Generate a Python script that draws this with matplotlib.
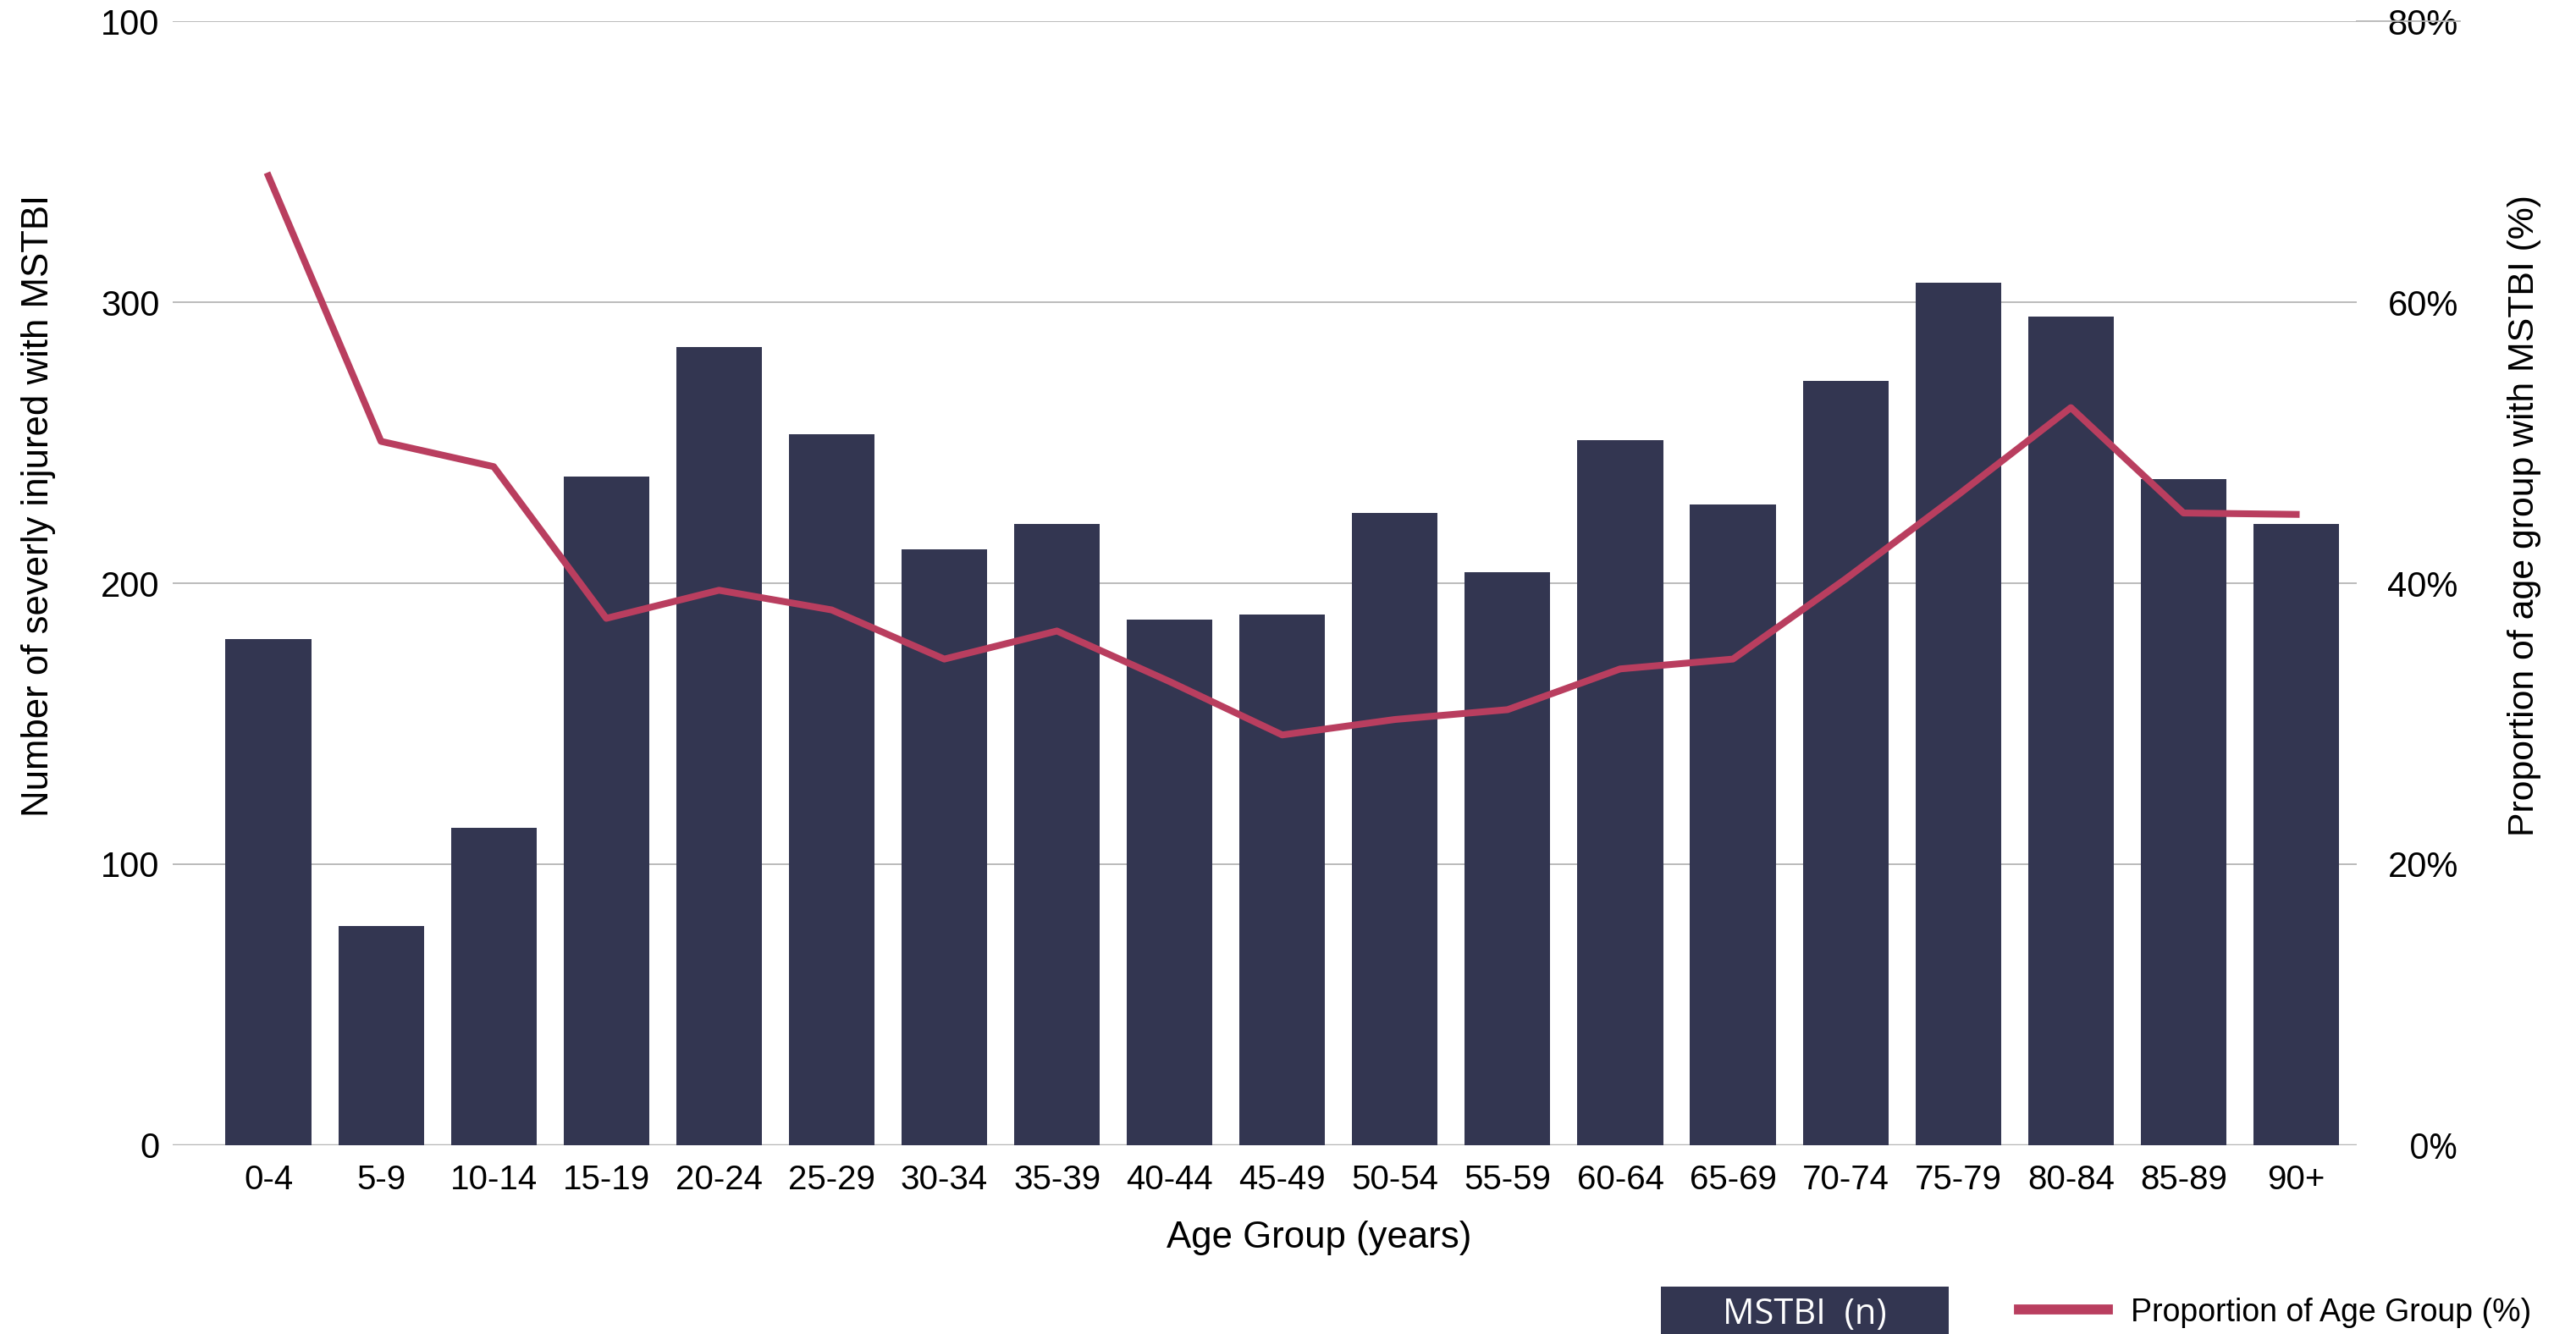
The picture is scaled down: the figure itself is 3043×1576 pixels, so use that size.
import matplotlib
matplotlib.use("Agg")
import matplotlib.pyplot as plt
from matplotlib import font_manager
from matplotlib.patches import Rectangle
from matplotlib.lines import Line2D

age_groups = ["0-4", "5-9", "10-14", "15-19", "20-24", "25-29", "30-34", "35-39",
              "40-44", "45-49", "50-54", "55-59", "60-64", "65-69", "70-74", "75-79",
              "80-84", "85-89", "90+"]
mstbi_n = [180, 78, 113, 238, 284, 253, 212, 221, 187, 189,
           225, 204, 251, 228, 272, 307, 295, 237, 221]
proportion_pct = [69.0, 50.1, 48.3, 37.5, 39.5, 38.1, 34.6, 36.6, 33.0, 29.2,
                  30.3, 31.0, 33.9, 34.6, 40.3, 46.3, 52.5, 45.0, 44.9]
left_ticks = [0, 100, 200, 300, 400]
left_tick_labels = ["0", "100", "200", "300", "100"]
right_ticks = [0, 20, 40, 60, 80]

installed = {f.name for f in font_manager.fontManager.ttflist}
narrow = "Liberation Sans Narrow" if "Liberation Sans Narrow" in installed else "Liberation Sans"
plt.rcParams['font.family'] = ['Liberation Sans', 'DejaVu Sans']

BAR = "#333651"
LINE = "#B93E5F"
GRID = "#b5b5b5"

fig = plt.figure(figsize=(30.43, 15.76), dpi=100)
ax = fig.add_axes([0.067, 0.1416, 0.848, 0.8424])
x = list(range(len(age_groups)))

ax.bar(x, mstbi_n, width=0.76, color=BAR, zorder=2)
ax.set_xlim(-0.85, 18.54)
ax.set_ylim(0, 400)
ax.set_yticks(left_ticks)
ax.set_yticklabels(left_tick_labels)
ax.yaxis.grid(True, color=GRID, linewidth=1.3, zorder=0)
ax.set_axisbelow(True)
for s in ax.spines.values():
    s.set_visible(False)
ax.axhline(0, color=GRID, linewidth=2.5, zorder=1)

ax.set_xticks(x)
ax.set_xticklabels(age_groups, family=[narrow, 'DejaVu Sans'], fontsize=29)
ax.tick_params(axis='x', length=0, pad=16)
ax.tick_params(axis='y', length=0, pad=11, labelsize=30)
ax.set_xlabel("Age Group (years)", fontsize=31.5)
ax.xaxis.set_label_coords(0.525, -0.0675)
ax.set_ylabel("Number of severly injured with MSTBI", fontsize=31.5)
ax.yaxis.set_label_coords(-0.0535, 0.569)

ax2 = ax.twinx()
ax2.plot(x, proportion_pct, color=LINE, linewidth=5.8, zorder=3)
ax2.set_ylim(0, 80)
ax2.set_yticks(right_ticks)
ax2.set_yticklabels([f"{t}%" for t in right_ticks])
ax2.tick_params(axis='y', length=0, pad=86, labelsize=30)
for lbl in ax2.get_yticklabels():
    lbl.set_horizontalalignment('right')
ax2.get_yticklabels()[0].set_family(['Open Sans', 'DejaVu Sans'])
for s in ax2.spines.values():
    s.set_visible(False)
ax2.set_ylabel("Proportion of age group with MSTBI (%)", fontsize=30.8,
               family=[narrow, 'DejaVu Sans'])
ax2.yaxis.set_label_coords(1.069, 0.56)
# top gridline runs out past the right axis, through the 80% label
ax2.plot([1, 1.047], [1, 1], transform=ax2.transAxes, color=GRID, linewidth=1.3,
         clip_on=False, zorder=5)

# legend, drawn by hand: filled box for the bars, line swatch for the proportion
fig.patches.append(Rectangle((0.6448, 0.0), 0.1117, 0.0355, transform=fig.transFigure,
                             facecolor=BAR, edgecolor='none'))
fig.text(0.7006, 0.0146, "MSTBI  (n)", color="white", fontsize=30,
         family=['Open Sans', 'DejaVu Sans'], ha='center', va='center')
fig.lines.append(Line2D([0.7838, 0.8183], [0.0184, 0.0184], transform=fig.transFigure,
                        color=LINE, linewidth=8.5))
fig.text(0.827, 0.016, "Proportion of Age Group (%)", fontsize=27,
         family=[narrow, 'DejaVu Sans'], ha='left', va='center')

fig.savefig("out.png", dpi=100)
